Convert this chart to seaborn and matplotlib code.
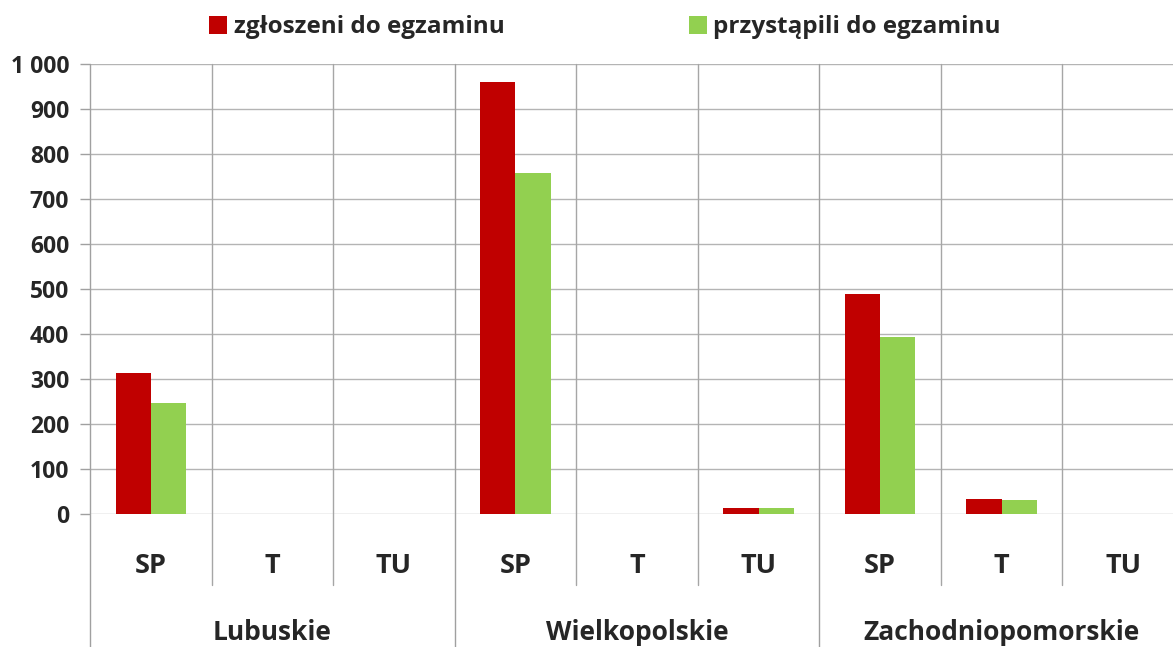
import matplotlib
matplotlib.use("Agg")
import matplotlib.pyplot as plt
import seaborn as sns
import pandas as pd
from matplotlib.patches import Patch

regions = ["Lubuskie", "Wielkopolskie", "Zachodniopomorskie"]
types = ["SP", "T", "TU"]
series = ["zgłoszeni do egzaminu", "przystąpili do egzaminu"]
zgloszeni = [313, 0, 0, 960, 1, 13, 489, 33, 0]
przystapili = [247, 0, 0, 758, 1, 13, 393, 31, 0]
yticks = [0, 100, 200, 300, 400, 500, 600, 700, 800, 900, 1000]
ytick_labels = ["0", "100", "200", "300", "400", "500", "600", "700", "800", "900", "1 000"]
colors = ["#C00000", "#92D050"]

keys = [f"{r}|{t}" for r in regions for t in types]
rows = []
for k, v1, v2 in zip(keys, zgloszeni, przystapili):
    rows.append({"key": k, "seria": series[0], "value": v1})
    rows.append({"key": k, "seria": series[1], "value": v2})
df = pd.DataFrame(rows)

sns.set_theme(style="white")
FONT = ["Open Sans", "DejaVu Sans"]
plt.rcParams["font.family"] = FONT
plt.rcParams["font.weight"] = "bold"

fig = plt.figure(figsize=(11.73, 6.47), dpi=100)
ax = fig.add_axes([90/1173, (647-514)/647, 1094/1173, 450/647])

sns.barplot(data=df, x="key", y="value", hue="seria", order=keys, hue_order=series,
            palette=colors, width=0.58, gap=0, saturation=1, ax=ax, legend=False,
            edgecolor="none", linewidth=0)

ax.set_xlim(-0.5, len(keys) - 0.5)
ax.set_ylim(0, 1000)
ax.set_yticks(yticks)
ax.set_yticklabels(ytick_labels, fontsize=16.5, fontweight="bold", family=FONT)
ax.set_xticks([])
ax.set_xlabel("")
ax.set_ylabel("")
ax.tick_params(axis="y", length=7, color="#a0a0a0", width=1, pad=8, left=True)
for s in ax.spines.values():
    s.set_visible(False)

grid_c = "#b4b4b4"
for y in yticks:
    ax.axhline(y, color=grid_c, lw=1, zorder=0)

n = len(keys)
for i in range(n + 1):
    x = i - 0.5
    if i % 3 == 0:
        ax.axvline(x, ymin=-133/450, ymax=1, color="#a0a0a0", lw=1, clip_on=False, zorder=0)
    else:
        ax.axvline(x, ymin=-71/450, ymax=1, color="#a6a6a6", lw=1, clip_on=False, zorder=0)

for i, k in enumerate(keys):
    ax.text(i, -52/450, k.split("|")[1], transform=ax.get_xaxis_transform(),
            ha="center", va="center", fontsize=19.5, fontweight="bold", family=FONT)
for j, r in enumerate(regions):
    ax.text(j * 3 + 1, -119/450, r, transform=ax.get_xaxis_transform(),
            ha="center", va="center", fontsize=19, fontweight="bold", family=FONT)

handles = [Patch(facecolor=c, edgecolor="none") for c in colors]
fig.legend(handles, series, loc="upper center", bbox_to_anchor=(605/1173, 1.01), ncol=2,
           frameon=False, prop={"weight": "bold", "size": 17.5, "family": FONT},
           handlelength=0.75, handleheight=0.75, handletextpad=0.25, columnspacing=7.6)

fig.savefig("out.png", dpi=100)
